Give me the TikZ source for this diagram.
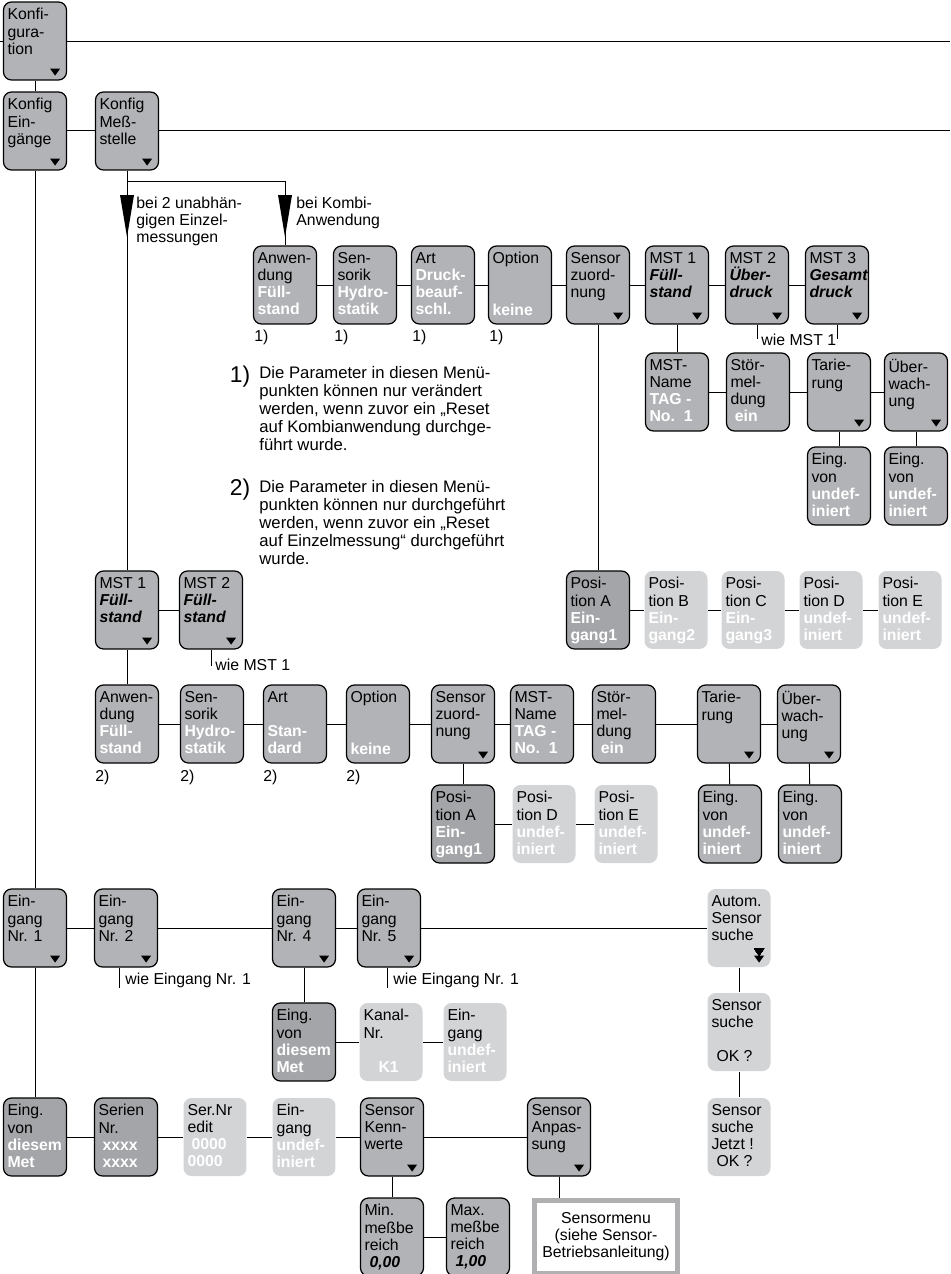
\documentclass[tikz,border=0pt]{standalone}
\usepackage{fontspec}
\setmainfont{Liberation Sans}
\usetikzlibrary{calc}

\definecolor{boxgray}{RGB}{178,179,182}
\definecolor{selgray}{RGB}{164,165,168}
\definecolor{palegray}{RGB}{211,212,214}
\definecolor{rimgray}{RGB}{176,176,179}

\newcommand{\val}[1]{\textbf{\color{white}#1}}
\newcommand{\mst}[1]{\textbf{\itshape #1}}
\newcommand{\btext}[1]{\parbox[t][1.30cm][t]{1.10cm}{\raggedright #1}}
\newcommand{\tri}[1]{\fill ($(#1.south east)+(-17,-12)$) -- ++(10,0) -- ++(-5,7) -- cycle;}

\tikzset{
	menu/.style = {draw, line width = 0.7pt, fill = boxgray, rounded corners = 0.16cm, inner xsep = 0.08cm, inner ysep = 0.06cm, minimum width = 1.26cm, minimum height = 1.56cm},
	sel/.style = {menu, fill = selgray},
	pale/.style = {menu, draw = none, fill = palegray},
	note/.style = {inner sep = 0pt, align = left}
}

\begin{document}
\begin{tikzpicture}[x = 0.02cm, y = -0.02cm, font = \fontsize{9}{9.7}\selectfont, line width = 0.5pt]
	 \useasboundingbox (0, 0) rectangle (950, 1274);
	 \coordinate (lft) at (0, 41);
	 \coordinate (rgta) at (950, 41);
	 \coordinate (rgtb) at (950, 130);
	 \coordinate (split) at (127, 181);
	 
	 \node[menu] (konf) at (35, 41) {\btext{Konfi-\\gura-\\tion}};
	 \node[menu] (konfein) at (35, 131) {\btext{Konfig\\Ein-\\gänge}};
	 \node[menu] (konfmess) at (127, 131) {\btext{Konfig\\Meß-\\stelle}};
	 
	 \node[menu] (anw) at (285, 285) {\btext{Anwen-\\dung\\\val{Füll-}\\\val{stand}}};
	 \node[menu] (sens) at (365, 285) {\btext{Sen-\\sorik\\\val{Hydro-}\\\val{statik}}};
	 \node[menu] (art) at (443, 285) {\btext{Art\\\val{Druck-}\\\val{beauf-}\\\val{schl.}}};
	 \node[menu] (opt) at (520, 285) {\btext{Option\\~\\~\\\val{keine}}};
	 \node[menu] (szu) at (598, 285) {\btext{Sensor\\zuord-\\nung}};
	 \node[menu] (msta) at (677, 285) {\btext{MST 1\\\mst{Füll-}\\\mst{stand}}};
	 \node[menu] (mstb) at (757, 285) {\btext{MST 2\\\mst{Über-}\\\mst{druck}}};
	 \node[menu] (mstc) at (837, 285) {\btext{MST 3\\\mst{Gesamt}\\\mst{druck}}};
	 
	 \node[menu] (mname) at (677, 392) {\btext{MST-\\Name\\\val{TAG -}\\\val{No.~~1}}};
	 \node[menu] (stoer) at (758, 392) {\btext{Stör-\\mel-\\dung\\\val{~ein}}};
	 \node[menu] (tar) at (839, 392) {\btext{Tarie-\\rung}};
	 \node[menu] (ueb) at (916, 392) {\btext{Über-\\wach-\\ung}};
	 \node[menu] (eva) at (839, 486) {\btext{Eing.\\von\\\val{undef-}\\\val{iniert}}};
	 \node[menu] (evb) at (916, 486) {\btext{Eing.\\von\\\val{undef-}\\\val{iniert}}};
	 
	 \node[sel] (posa) at (598, 610) {\btext{Posi-\\tion A\\\val{Ein-}\\\val{gang1}}};
	 \node[pale] (posb) at (676, 610) {\btext{Posi-\\tion B\\\val{Ein-}\\\val{gang2}}};
	 \node[pale] (posc) at (753, 610) {\btext{Posi-\\tion C\\\val{Ein-}\\\val{gang3}}};
	 \node[pale] (posd) at (831, 610) {\btext{Posi-\\tion D\\\val{undef-}\\\val{iniert}}};
	 \node[pale] (pose) at (910, 610) {\btext{Posi-\\tion E\\\val{undef-}\\\val{iniert}}};
	 
	 \node[menu] (mla) at (127, 610) {\btext{MST 1\\\mst{Füll-}\\\mst{stand}}};
	 \node[menu] (mlb) at (211, 610) {\btext{MST 2\\\mst{Füll-}\\\mst{stand}}};
	 
	 \node[menu] (anwb) at (127, 724) {\btext{Anwen-\\dung\\\val{Füll-}\\\val{stand}}};
	 \node[menu] (sensb) at (212, 724) {\btext{Sen-\\sorik\\\val{Hydro-}\\\val{statik}}};
	 \node[menu] (artb) at (295, 724) {\btext{Art\\~\\\val{Stan-}\\\val{dard}}};
	 \node[menu] (optb) at (378, 724) {\btext{Option\\~\\~\\\val{keine}}};
	 \node[menu] (szub) at (463, 724) {\btext{Sensor\\zuord-\\nung}};
	 \node[menu] (mnameb) at (542, 724) {\btext{MST-\\Name\\\val{TAG -}\\\val{No.~~1}}};
	 \node[menu] (stoerb) at (624, 724) {\btext{Stör-\\mel-\\dung\\\val{~ein}}};
	 \node[menu] (tarb) at (729, 724) {\btext{Tarie-\\rung}};
	 \node[menu] (uebb) at (809, 724) {\btext{Über-\\wach-\\ung}};
	 
	 \node[sel] (posab) at (463, 824) {\btext{Posi-\\tion A\\\val{Ein-}\\\val{gang1}}};
	 \node[pale] (posdb) at (544, 824) {\btext{Posi-\\tion D\\\val{undef-}\\\val{iniert}}};
	 \node[pale] (poseb) at (626, 824) {\btext{Posi-\\tion E\\\val{undef-}\\\val{iniert}}};
	 \node[menu] (evc) at (730, 824) {\btext{Eing.\\von\\\val{undef-}\\\val{iniert}}};
	 \node[menu] (evd) at (810, 824) {\btext{Eing.\\von\\\val{undef-}\\\val{iniert}}};
	 
	 \node[menu] (eins) at (35, 928) {\btext{Ein-\\gang\\Nr. 1}};
	 \node[menu] (ezwei) at (126, 928) {\btext{Ein-\\gang\\Nr. 2}};
	 \node[menu] (evier) at (304, 928) {\btext{Ein-\\gang\\Nr. 4}};
	 \node[menu] (efuenf) at (389, 928) {\btext{Ein-\\gang\\Nr. 5}};
	 \node[pale] (auto) at (739, 928) {\btext{Autom.\\Sensor\\suche}};
	 \node[pale] (ssok) at (739, 1032) {\btext{Sensor\\suche\\~\\\hspace*{0.1cm}OK ?}};
	 \node[pale] (ssj) at (739, 1137) {\btext{Sensor\\suche\\Jetzt !\\\hspace*{0.1cm}OK ?}};
	 
	 \node[sel] (dma) at (304, 1042) {\btext{Eing.\\von\\\val{diesem}\\\val{Met}}};
	 \node[pale] (kanal) at (391, 1042) {\btext{Kanal-\\Nr.\\~\\\hspace*{0.3cm}\val{K1}}};
	 \node[pale] (eundef) at (475, 1042) {\btext{Ein-\\gang\\\val{undef-}\\\val{iniert}}};
	 
	 \node[sel] (dmb) at (35, 1137) {\btext{Eing.\\von\\\val{diesem}\\\val{Met}}};
	 \node[sel] (serien) at (126, 1137) {\btext{Serien\\Nr.\\\hspace*{0.08cm}\val{xxxx}\\\hspace*{0.08cm}\val{xxxx}}};
	 \node[pale] (sernr) at (215, 1137) {\btext{Ser.Nr\\edit\\\hspace*{0.08cm}\val{0000}\\\val{0000}}};
	 \node[pale] (eundefb) at (304, 1137) {\btext{Ein-\\gang\\\val{undef-}\\\val{iniert}}};
	 \node[menu] (kenn) at (392, 1137) {\btext{Sensor\\Kenn-\\werte}};
	 \node[menu] (anp) at (559, 1137) {\btext{Sensor\\Anpas-\\sung}};
	 \node[menu] (min) at (392, 1237) {\btext{Min.\\meßbe\\reich\\\hspace*{0.1cm}\mst{0,00}}};
	 \node[menu] (max) at (478, 1237) {\btext{Max.\\meßbe\\reich\\\hspace*{0.1cm}\mst{1,00}}};
	 \node[draw = rimgray, line width = 0.1cm, fill = white, minimum width = 2.88cm, minimum height = 1.46cm, align = center] (smenu) at (606, 1237) {Sensormenu\\(siehe Sensor-\\Betriebsanleitung)};
	 
	 \foreach \b in {konf, konfein, konfmess, szu, msta, mstb, mstc, tar, ueb, mla, mlb, szub, tarb, uebb, eins, ezwei, evier, efuenf, kenn, anp}
	 \tri{\b}
	 \fill ($(auto.south east)+(-17,-19)$) -- ++(10,0) -- ++(-5,7) -- cycle;
	 \fill ($(auto.south east)+(-17,-12)$) -- ++(10,0) -- ++(-5,7) -- cycle;
	 
	 \draw (lft) -- (konf) -- (rgta);
	 \draw (konf) -- (konfein) -- (eins) -- (dmb);
	 \draw (konfein.east |- rgtb) -- (konfmess.west |- rgtb);
	 \draw (konfmess.east |- rgtb) -- (rgtb);
	 \draw (konfmess) -- (split) -| (anw.north);
	 \draw (split) -- (mla);
	 \fill ($(split)+(-7,14)$) -- ++(14,0) -- ++(-7,42) -- cycle;
	 \fill ($(split -| anw.north)+(-7,14)$) -- ++(14,0) -- ++(-7,42) -- cycle;
	 \node[note, anchor = north west] at (136, 197) {bei 2 unabhän-\\gigen Einzel-\\messungen};
	 \node[note, anchor = north west] at (296, 197) {bei Kombi-\\Anwendung};
	 
	 \draw (anw) -- (sens) -- (art) -- (opt) -- (szu) -- (msta) -- (mstb) -- (mstc);
	 \foreach \b in {anw, sens, art, opt}
	 \node[note, anchor = north west] at ($(\b.south west)+(1,5)$) {1)};
	 \draw (mstb.south) -- ++(0, 14);
	 \draw (mstc.south) -- ++(0, 14);
	 \node[note, anchor = west] at ($(mstb.south)+(4, 15)$) {wie MST 1};
	 \draw (msta) -- (mname) -- (stoer) -- (tar) -- (ueb);
	 \draw (tar) -- (eva);
	 \draw (ueb) -- (evb);
	 \draw (szu) -- (posa) -- (posb) -- (posc) -- (posd) -- (pose);
	 
	 \node[note, font = \fontsize{13}{13}\selectfont] at (240, 377) {1)};
	 \node[note, anchor = north west, font = \fontsize{9.5}{10.2}\selectfont] at (259, 366) {Die Parameter in diesen Menü-\\punkten können nur verändert\\werden, wenn zuvor ein „Reset\\auf Kombianwendung durchge-\\führt wurde.};
	 \node[note, font = \fontsize{13}{13}\selectfont] at (240, 490) {2)};
	 \node[note, anchor = north west, font = \fontsize{9.5}{10.2}\selectfont] at (259, 480) {Die Parameter in diesen Menü-\\punkten können nur durchgeführt\\werden, wenn zuvor ein „Reset\\auf Einzelmessung“ durchgeführt\\wurde.};
	 
	 \draw (mla) -- (mlb);
	 \draw (mlb.south) -- ++(0, 16);
	 \node[note, anchor = west] at ($(mlb.south)+(4, 15)$) {wie MST 1};
	 \draw (mla) -- (anwb) -- (sensb) -- (artb) -- (optb) -- (szub) -- (mnameb) -- (stoerb) -- (tarb) -- (uebb);
	 \foreach \b in {anwb, sensb, artb, optb}
	 \node[note, anchor = north west] at ($(\b.south west)+(0,6)$) {2)};
	 \draw (szub) -- (posab) -- (posdb) -- (poseb);
	 \draw (tarb) -- (evc);
	 \draw (uebb) -- (evd);
	 
	 \draw (eins) -- (ezwei) -- (evier) -- (efuenf) -- (auto) -- (ssok) -- (ssj);
	 \draw ($(ezwei.south)+(-7,0)$) -- ++(0, 20);
	 \node[note, anchor = west] at ($(ezwei.south)+(-1, 13)$) {wie Eingang Nr. 1};
	 \draw ($(efuenf.south)+(-2,0)$) -- ++(0, 20);
	 \node[note, anchor = west] at ($(efuenf.south)+(4, 13)$) {wie Eingang Nr. 1};
	 \draw (evier) -- (dma) -- (kanal) -- (eundef);
	 
	 \draw (dmb) -- (serien) -- (sernr) -- (eundefb) -- (kenn) -- (anp);
	 \draw (kenn) -- (min) -- (max);
	 \draw (anp) -- (anp |- smenu.north);
\end{tikzpicture}
\end{document}
